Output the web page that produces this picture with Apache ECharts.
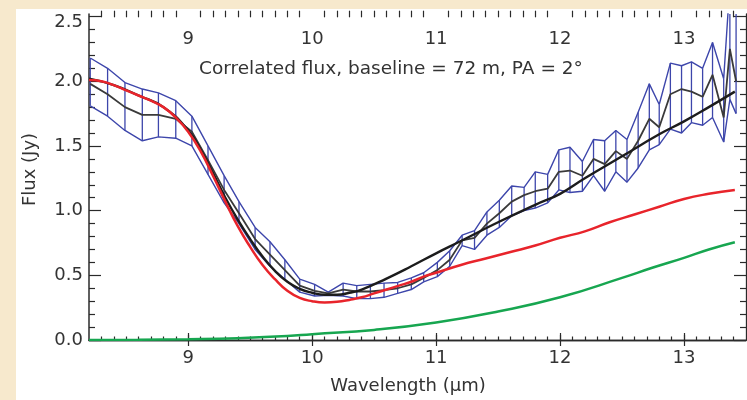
<!DOCTYPE html>
<html><head><meta charset="utf-8">
<script src="https://cdn.jsdelivr.net/npm/echarts@6/dist/echarts.min.js"></script>
<style>html,body{margin:0;padding:0;background:#fff}#c{width:747px;height:400px}</style>
</head><body><div id="c"></div>
<script>
// ---- data ----
const bandWl = [8.21, 8.35, 8.49, 8.63, 8.76, 8.90, 9.03, 9.16, 9.29, 9.41, 9.54, 9.66, 9.78, 9.90, 10.02, 10.13, 10.25, 10.36, 10.47, 10.58, 10.69, 10.80, 10.90, 11.01, 11.11, 11.21, 11.31, 11.41, 11.51, 11.61, 11.71, 11.80, 11.90, 11.99, 12.08, 12.18, 12.27, 12.36, 12.45, 12.54, 12.63, 12.72, 12.80, 12.89, 12.98, 13.06, 13.15, 13.23, 13.32, 13.37, 13.42];
const bandUpper = [2.18, 2.10, 1.99, 1.94, 1.91, 1.85, 1.73, 1.50, 1.27, 1.07, 0.87, 0.76, 0.62, 0.47, 0.43, 0.37, 0.44, 0.42, 0.43, 0.44, 0.445, 0.48, 0.52, 0.60, 0.69, 0.81, 0.845, 0.99, 1.08, 1.19, 1.18, 1.30, 1.28, 1.47, 1.49, 1.38, 1.55, 1.54, 1.62, 1.55, 1.76, 1.98, 1.82, 2.14, 2.12, 2.15, 2.10, 2.30, 2.02, 2.75, 2.65];
const bandLower = [1.81, 1.73, 1.62, 1.54, 1.57, 1.56, 1.50, 1.28, 1.06, 0.90, 0.70, 0.57, 0.47, 0.37, 0.34, 0.345, 0.34, 0.32, 0.32, 0.33, 0.36, 0.39, 0.45, 0.49, 0.57, 0.73, 0.70, 0.81, 0.87, 0.96, 1.00, 1.02, 1.06, 1.16, 1.14, 1.15, 1.27, 1.15, 1.30, 1.22, 1.33, 1.47, 1.51, 1.63, 1.60, 1.68, 1.66, 1.72, 1.53, 1.86, 1.75];
const bandMean = [1.98, 1.90, 1.80, 1.74, 1.74, 1.71, 1.61, 1.39, 1.16, 0.98, 0.78, 0.66, 0.54, 0.42, 0.38, 0.36, 0.39, 0.375, 0.375, 0.385, 0.40, 0.43, 0.48, 0.54, 0.62, 0.77, 0.79, 0.90, 0.98, 1.07, 1.12, 1.15, 1.17, 1.30, 1.31, 1.27, 1.40, 1.36, 1.46, 1.40, 1.54, 1.71, 1.645, 1.90, 1.94, 1.92, 1.88, 2.05, 1.72, 2.25, 2.00];

const modelWl = [8.2, 8.4, 8.6, 8.8, 9.0, 9.1, 9.2, 9.3, 9.4, 9.5, 9.6, 9.7, 9.8, 9.9, 10.0, 10.1, 10.2, 10.3, 10.4, 10.6, 10.8, 11.0, 11.2, 11.5, 11.8, 12.0, 12.2, 12.5, 12.8, 13.0, 13.2, 13.41];
const modelFlux = [2.02, 1.97, 1.89, 1.80, 1.62, 1.47, 1.29, 1.10, 0.93, 0.78, 0.645, 0.535, 0.45, 0.395, 0.365, 0.35, 0.35, 0.365, 0.39, 0.475, 0.57, 0.67, 0.765, 0.91, 1.045, 1.13, 1.25, 1.42, 1.59, 1.69, 1.80, 1.92];

const redWl = [8.2, 8.3, 8.4, 8.5, 8.6, 8.7, 8.8, 8.9, 9.0, 9.1, 9.2, 9.3, 9.4, 9.5, 9.6, 9.7, 9.8, 9.9, 10.0, 10.1, 10.2, 10.3, 10.4, 10.5, 10.6, 10.7, 10.8, 10.9, 11.0, 11.2, 11.4, 11.6, 11.8, 12.0, 12.2, 12.4, 12.6, 12.8, 13.0, 13.2, 13.41];
const redFlux = [2.01, 2.0, 1.97, 1.93, 1.89, 1.85, 1.80, 1.72, 1.61, 1.46, 1.27, 1.07, 0.88, 0.72, 0.58, 0.47, 0.38, 0.325, 0.30, 0.29, 0.295, 0.31, 0.33, 0.36, 0.39, 0.42, 0.45, 0.49, 0.52, 0.58, 0.63, 0.68, 0.73, 0.79, 0.84, 0.91, 0.97, 1.03, 1.09, 1.13, 1.16];

const greenWl = [8.2, 8.6, 9.0, 9.4, 9.8, 10.0, 10.5, 11.0, 11.5, 12.0, 12.5, 12.75, 13.0, 13.2, 13.41];
const greenFlux = [0.0, 0.002, 0.006, 0.014, 0.03, 0.045, 0.078, 0.135, 0.22, 0.33, 0.48, 0.56, 0.635, 0.70, 0.756];

const xMajorTicks = [9, 10, 11, 12, 13];
const yMajorTicks = [0, 0.5, 1.0, 1.5, 2.0, 2.5];
const titleText = 'Correlated flux, baseline = 72 m, PA = 2°';
const xName = 'Wavelength (µm)';
const yName = 'Flux (Jy)';

// minor tick positions every 0.1
const xMinorTicks = [];
for (let k = 83; k <= 134; k++) if (k % 10 !== 0) xMinorTicks.push(k / 10);
const yMinorTicks = [];
for (let k = 1; k <= 25; k++) if (k % 5 !== 0) yMinorTicks.push(k / 10);

// ---- styling ----
const FONT = 'DejaVu Sans';
const TXT = '#333333';
const AX = '#2a2a2a';
const BLUE = '#3d46ab';
const XMIN = 8.2, XMAX = 13.5, YMIN = 0, YMAX = 2.52;

function xAxisDef(pos, ticks, len, inside, opts) {
  return Object.assign({
    type: 'value', gridIndex: 0, position: pos, min: XMIN, max: XMAX,
    axisLine: { show: false },
    axisTick: { show: true, inside: inside, length: len, customValues: ticks, lineStyle: { color: AX, width: 1.2 } },
    axisLabel: { show: false },
    splitLine: { show: false }
  }, opts || {});
}
function yAxisDef(pos, ticks, len, opts) {
  return Object.assign({
    type: 'value', gridIndex: 0, position: pos, min: YMIN, max: YMAX,
    axisLine: { show: false },
    axisTick: { show: true, inside: true, length: len, customValues: ticks, lineStyle: { color: AX, width: 1.2 } },
    axisLabel: { show: false },
    splitLine: { show: false }
  }, opts || {});
}

const xAxes = [
  xAxisDef('bottom', xMajorTicks, 7, true, {
    axisLine: { show: true, lineStyle: { color: AX, width: 1.3 } },
    axisLabel: { show: true, customValues: xMajorTicks, margin: 9, fontSize: 18, fontFamily: FONT, color: TXT },
    name: xName, nameLocation: 'middle', nameGap: 37,
    nameTextStyle: { fontSize: 18, fontFamily: FONT, color: TXT, padding: [0, 19, 0, 0] }
  }),
  xAxisDef('bottom', xMinorTicks, 3.5, true),
  xAxisDef('top', xMajorTicks, 6, true, {
    axisLine: { show: true, lineStyle: { color: AX, width: 1.3 } },
    axisLabel: { show: true, inside: true, customValues: xMajorTicks, margin: 16, fontSize: 18, fontFamily: FONT, color: TXT }
  }),
  xAxisDef('top', xMajorTicks, 5, false),
  xAxisDef('top', xMinorTicks, 3.3, true),
  xAxisDef('top', xMinorTicks, 3.3, false)
];

const yAxes = [
  yAxisDef('left', yMajorTicks, 12, {
    axisLine: { show: true, lineStyle: { color: AX, width: 1.5 } },
    axisLabel: {
      show: true, customValues: yMajorTicks, margin: 6, fontSize: 18, fontFamily: FONT, color: TXT,
      formatter: v => (Math.abs(v - 2.5) < 1e-9 ? '{t|' + v.toFixed(1) + '}' : v.toFixed(1)),
      rich: { t: { fontSize: 18, fontFamily: FONT, color: TXT, padding: [11, 0, 0, 0] } }
    },
    name: yName, nameLocation: 'middle', nameGap: 50,
    nameTextStyle: { fontSize: 18, fontFamily: FONT, color: TXT, padding: [0, 0, 0, 15] }
  }),
  yAxisDef('left', yMinorTicks, 6),
  yAxisDef('right', yMajorTicks, 12, { axisLine: { show: true, lineStyle: { color: AX, width: 1.3 } } }),
  yAxisDef('right', yMinorTicks, 6)
];

function pairs(xs, ys) { return xs.map((x, i) => [x, ys[i]]); }
function lineSeries(data, color, width, smooth) {
  return {
    type: 'line', xAxisIndex: 0, yAxisIndex: 0, data: data, symbol: 'none', showSymbol: false,
    smooth: smooth, clip: true, silent: true,
    lineStyle: { color: color, width: width }
  };
}

const chart = echarts.init(document.getElementById('c'), null, { renderer: 'canvas' });
chart.setOption({
  animation: false,
  backgroundColor: '#f7e9cd',
  textStyle: { fontFamily: FONT },
  graphic: [
    { type: 'rect', z: -100, silent: true, shape: { x: 16, y: 9, width: 747 - 16, height: 400 - 9 }, style: { fill: '#ffffff' } },
    { type: 'text', z: 100, silent: true, x: 199, y: 69.5,
      style: { text: titleText, fontSize: 18.5, fontFamily: FONT, fill: TXT, verticalAlign: 'middle', align: 'left' } }
  ],
  grid: { left: 89, right: 1, top: 14, bottom: 57, containLabel: false },
  xAxis: xAxes,
  yAxis: yAxes,
  series: [
    lineSeries(pairs(greenWl, greenFlux), '#17a650', 2.5, true),
    {
      type: 'custom', xAxisIndex: 0, yAxisIndex: 0, clip: true, silent: true,
      data: bandWl.map((w, i) => [w, bandLower[i], bandUpper[i]]),
      encode: { x: 0, y: [1, 2] },
      renderItem: function (params, api) {
        const a = api.coord([api.value(0), api.value(1)]);
        const b = api.coord([api.value(0), api.value(2)]);
        return { type: 'line', shape: { x1: a[0], y1: a[1], x2: b[0], y2: b[1] }, style: { stroke: BLUE, lineWidth: 1.3 } };
      }
    },
    lineSeries(pairs(bandWl, bandUpper), BLUE, 1.4, false),
    lineSeries(pairs(bandWl, bandLower), BLUE, 1.4, false),
    lineSeries(pairs(bandWl, bandMean), '#3a3a3a', 1.8, false),
    lineSeries(pairs(modelWl, modelFlux), '#1c1c1c', 2.4, true),
    lineSeries(pairs(redWl, redFlux), '#e8242b', 2.5, true)
  ]
});
</script>
</body></html>
